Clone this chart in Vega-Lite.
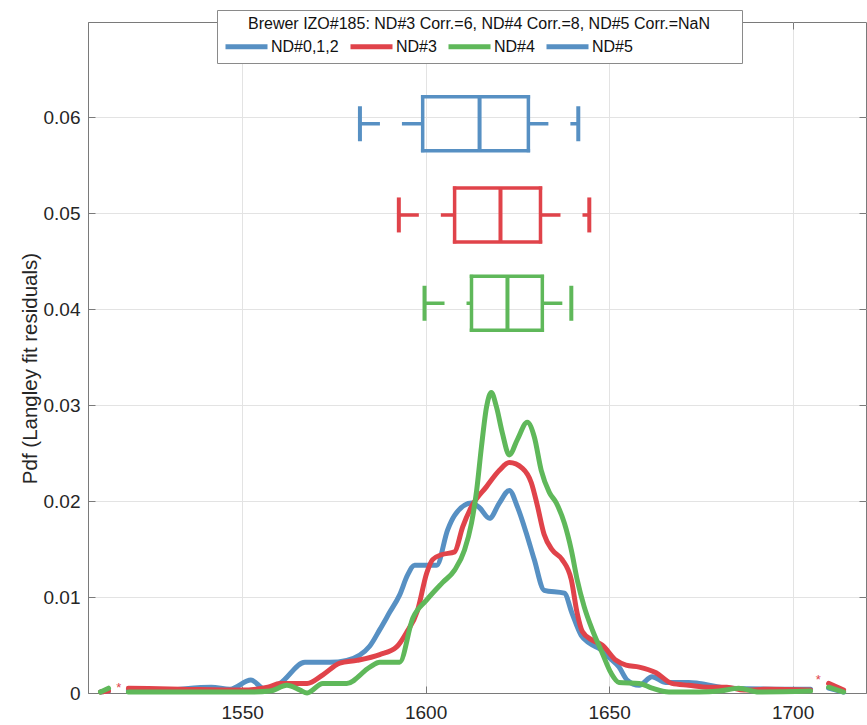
{
  "$schema": "https://vega.github.io/schema/vega-lite/v6.json",
  "width": 778,
  "height": 671,
  "autosize": {"type": "none"},
  "padding": {"left": 88, "top": 22, "right": 1, "bottom": 32},
  "background": "white",
  "config": {
    "font": "Liberation Sans",
    "view": {"stroke": "#7a7a7a", "strokeWidth": 1},
    "axis": {
      "labelFontSize": 19,
      "labelColor": "#262626",
      "gridColor": "#e3e3e3",
      "domainColor": "#7a7a7a",
      "tickColor": "#7a7a7a",
      "tickSize": -7,
      "titleFontWeight": "normal",
      "titleColor": "#262626",
      "titleFontSize": 20.5
    }
  },
  "resolve": {"axis": {"x": "independent", "y": "independent"}},
  "datasets": {
    "pdf": [
      {"s":"ND#0,1,2","x":1511.4,"y":0.0001},{"s":"ND#0,1,2","x":1513.6,"y":0.0002},{"s":"ND#0,1,2","x":1516.3,"y":null},{"s":"ND#0,1,2","x":1519.0,"y":0.0003},{"s":"ND#0,1,2","x":1527.7,"y":0.0003},{"s":"ND#0,1,2","x":1541.6,"y":0.0006},{"s":"ND#0,1,2","x":1546.7,"y":0.0004},{"s":"ND#0,1,2","x":1552.4,"y":0.00135},{"s":"ND#0,1,2","x":1556.2,"y":0.0004},{"s":"ND#0,1,2","x":1560.3,"y":0.001},{"s":"ND#0,1,2","x":1567.1,"y":0.0032},{"s":"ND#0,1,2","x":1573.9,"y":0.0032},{"s":"ND#0,1,2","x":1578.5,"y":0.0034},{"s":"ND#0,1,2","x":1584.8,"y":0.0049},{"s":"ND#0,1,2","x":1587.5,"y":0.0066},{"s":"ND#0,1,2","x":1590.2,"y":0.0084},{"s":"ND#0,1,2","x":1592.9,"y":0.0102},{"s":"ND#0,1,2","x":1595.1,"y":0.0123},{"s":"ND#0,1,2","x":1597.0,"y":0.0133},{"s":"ND#0,1,2","x":1603.0,"y":0.0133},{"s":"ND#0,1,2","x":1606.0,"y":0.017},{"s":"ND#0,1,2","x":1607.9,"y":0.0185},{"s":"ND#0,1,2","x":1612.5,"y":0.0198},{"s":"ND#0,1,2","x":1614.7,"y":0.0193},{"s":"ND#0,1,2","x":1617.4,"y":0.0182},{"s":"ND#0,1,2","x":1620.1,"y":0.0198},{"s":"ND#0,1,2","x":1622.8,"y":0.0211},{"s":"ND#0,1,2","x":1625.0,"y":0.0194},{"s":"ND#0,1,2","x":1627.4,"y":0.0167},{"s":"ND#0,1,2","x":1629.6,"y":0.0139},{"s":"ND#0,1,2","x":1632.3,"y":0.0107},{"s":"ND#0,1,2","x":1637.8,"y":0.0104},{"s":"ND#0,1,2","x":1639.9,"y":0.0083},{"s":"ND#0,1,2","x":1642.4,"y":0.006},{"s":"ND#0,1,2","x":1644.6,"y":0.0052},{"s":"ND#0,1,2","x":1647.8,"y":0.0045},{"s":"ND#0,1,2","x":1650.0,"y":0.0037},{"s":"ND#0,1,2","x":1652.7,"y":0.0027},{"s":"ND#0,1,2","x":1654.9,"y":0.00135},{"s":"ND#0,1,2","x":1658.2,"y":0.0008},{"s":"ND#0,1,2","x":1661.7,"y":0.0017},{"s":"ND#0,1,2","x":1665.5,"y":0.0011},{"s":"ND#0,1,2","x":1671.7,"y":0.0011},{"s":"ND#0,1,2","x":1674.5,"y":0.001},{"s":"ND#0,1,2","x":1682.6,"y":0.0005},{"s":"ND#0,1,2","x":1698.9,"y":0.0004},{"s":"ND#0,1,2","x":1704.9,"y":0.0004},{"s":"ND#0,1,2","x":1707.0,"y":null},{"s":"ND#0,1,2","x":1709.8,"y":0.0005},{"s":"ND#0,1,2","x":1713.9,"y":0.0001},
      {"s":"ND#3","x":1511.4,"y":0.0001},{"s":"ND#3","x":1513.6,"y":0.0002},{"s":"ND#3","x":1516.3,"y":null},{"s":"ND#3","x":1519.0,"y":0.0005},{"s":"ND#3","x":1533.2,"y":0.0004},{"s":"ND#3","x":1549.7,"y":0.0003},{"s":"ND#3","x":1557.0,"y":0.0006},{"s":"ND#3","x":1560.3,"y":0.001},{"s":"ND#3","x":1567.7,"y":0.001},{"s":"ND#3","x":1572.0,"y":0.0019},{"s":"ND#3","x":1576.6,"y":0.0031},{"s":"ND#3","x":1581.3,"y":0.0034},{"s":"ND#3","x":1587.5,"y":0.004},{"s":"ND#3","x":1592.1,"y":0.0048},{"s":"ND#3","x":1594.8,"y":0.0063},{"s":"ND#3","x":1597.8,"y":0.0086},{"s":"ND#3","x":1600.3,"y":0.0125},{"s":"ND#3","x":1601.9,"y":0.0139},{"s":"ND#3","x":1604.3,"y":0.0144},{"s":"ND#3","x":1607.9,"y":0.0147},{"s":"ND#3","x":1610.1,"y":0.0173},{"s":"ND#3","x":1612.5,"y":0.0194},{"s":"ND#3","x":1616.6,"y":0.0215},{"s":"ND#3","x":1620.1,"y":0.0232},{"s":"ND#3","x":1622.8,"y":0.024},{"s":"ND#3","x":1626.4,"y":0.0234},{"s":"ND#3","x":1628.8,"y":0.0219},{"s":"ND#3","x":1630.4,"y":0.0196},{"s":"ND#3","x":1632.3,"y":0.0165},{"s":"ND#3","x":1634.5,"y":0.0149},{"s":"ND#3","x":1637.2,"y":0.0139},{"s":"ND#3","x":1639.7,"y":0.0118},{"s":"ND#3","x":1641.3,"y":0.0083},{"s":"ND#3","x":1642.7,"y":0.0064},{"s":"ND#3","x":1645.4,"y":0.0055},{"s":"ND#3","x":1648.1,"y":0.005},{"s":"ND#3","x":1651.9,"y":0.0034},{"s":"ND#3","x":1654.6,"y":0.0029},{"s":"ND#3","x":1658.2,"y":0.0027},{"s":"ND#3","x":1662.8,"y":0.0021},{"s":"ND#3","x":1667.1,"y":0.001},{"s":"ND#3","x":1671.7,"y":0.0008},{"s":"ND#3","x":1677.2,"y":0.0006},{"s":"ND#3","x":1682.1,"y":0.0006},{"s":"ND#3","x":1686.7,"y":0.0003},{"s":"ND#3","x":1693.5,"y":0.0004},{"s":"ND#3","x":1704.9,"y":0.0003},{"s":"ND#3","x":1707.0,"y":null},{"s":"ND#3","x":1709.8,"y":0.001},{"s":"ND#3","x":1713.9,"y":0.0003},
      {"s":"ND#4","x":1511.4,"y":0.0001},{"s":"ND#4","x":1513.6,"y":0.0005},{"s":"ND#4","x":1516.3,"y":null},{"s":"ND#4","x":1519.0,"y":0.0001},{"s":"ND#4","x":1552.2,"y":0.0001},{"s":"ND#4","x":1557.6,"y":0.0002},{"s":"ND#4","x":1562.2,"y":0.0008},{"s":"ND#4","x":1565.8,"y":0.0003},{"s":"ND#4","x":1567.7,"y":0.0},{"s":"ND#4","x":1572.0,"y":0.001},{"s":"ND#4","x":1578.5,"y":0.001},{"s":"ND#4","x":1584.8,"y":0.0027},{"s":"ND#4","x":1587.5,"y":0.0032},{"s":"ND#4","x":1592.9,"y":0.0032},{"s":"ND#4","x":1596.5,"y":0.0078},{"s":"ND#4","x":1600.3,"y":0.0097},{"s":"ND#4","x":1604.6,"y":0.0115},{"s":"ND#4","x":1607.9,"y":0.0128},{"s":"ND#4","x":1610.6,"y":0.0149},{"s":"ND#4","x":1612.5,"y":0.0177},{"s":"ND#4","x":1613.9,"y":0.0211},{"s":"ND#4","x":1615.2,"y":0.0256},{"s":"ND#4","x":1616.6,"y":0.0298},{"s":"ND#4","x":1617.9,"y":0.0313},{"s":"ND#4","x":1619.3,"y":0.0298},{"s":"ND#4","x":1620.9,"y":0.0271},{"s":"ND#4","x":1622.8,"y":0.0248},{"s":"ND#4","x":1625.0,"y":0.0264},{"s":"ND#4","x":1627.7,"y":0.0282},{"s":"ND#4","x":1629.6,"y":0.0267},{"s":"ND#4","x":1631.5,"y":0.0232},{"s":"ND#4","x":1633.7,"y":0.0209},{"s":"ND#4","x":1635.6,"y":0.0198},{"s":"ND#4","x":1637.8,"y":0.0177},{"s":"ND#4","x":1639.7,"y":0.0149},{"s":"ND#4","x":1641.3,"y":0.0118},{"s":"ND#4","x":1643.2,"y":0.009},{"s":"ND#4","x":1645.4,"y":0.0066},{"s":"ND#4","x":1648.1,"y":0.0042},{"s":"ND#4","x":1650.5,"y":0.0021},{"s":"ND#4","x":1652.7,"y":0.0011},{"s":"ND#4","x":1658.2,"y":0.001},{"s":"ND#4","x":1661.7,"y":0.0005},{"s":"ND#4","x":1666.3,"y":0.0001},{"s":"ND#4","x":1674.5,"y":0.0001},{"s":"ND#4","x":1680.0,"y":0.0002},{"s":"ND#4","x":1685.3,"y":0.0005},{"s":"ND#4","x":1690.8,"y":0.0001},{"s":"ND#4","x":1704.9,"y":0.0002},{"s":"ND#4","x":1707.0,"y":null},{"s":"ND#4","x":1709.8,"y":0.0006},{"s":"ND#4","x":1713.9,"y":0.0001}
    ],
    "box": [
      {"s":"ND#0,1,2","pos":0.0593,"lo":1582.1,"q1":1599.2,"med":1614.7,"q3":1628.0,"hi":1641.6},
      {"s":"ND#3","pos":0.0498,"lo":1592.7,"q1":1607.9,"med":1620.4,"q3":1631.3,"hi":1644.6},
      {"s":"ND#4","pos":0.0406,"lo":1599.7,"q1":1612.5,"med":1622.3,"q3":1631.8,"hi":1639.7}
    ],
    "stars": [
      {"x":1516.4,"y":0.0008,"t":"*"},
      {"x":1707.0,"y":0.0017,"t":"*"}
    ]
  },
  "layer": [
    {
      "data": {"name": "pdf"},
      "mark": {"type": "line", "strokeWidth": 5, "interpolate": "monotone", "strokeCap": "round", "strokeJoin": "round"},
      "encoding": {
        "x": {"field": "x", "type": "quantitative", "scale": {"domain": [1508, 1720], "nice": false, "zero": false},
              "axis": {"values": [1550, 1600, 1650, 1700], "format": "d", "title": null, "grid": true, "labelFlush": false, "labelPadding": 17}},
        "y": {"field": "y", "type": "quantitative", "scale": {"domain": [0, 0.0699], "nice": false},
              "axis": {"values": [0, 0.01, 0.02, 0.03, 0.04, 0.05, 0.06], "format": ".2~f", "title": "Pdf (Langley fit residuals)", "titlePadding": 3, "titleY": 346, "grid": true, "labelPadding": 15}},
        "color": {"field": "s", "type": "nominal",
          "scale": {"domain": ["ND#0,1,2", "ND#3", "ND#4", "ND#5"], "range": ["#5790c3", "#e0434a", "#5fb85a", "#5790c3"]},
          "legend": {
            "orient": "none", "legendX": 129, "legendY": -12, "direction": "horizontal",
            "title": "Brewer IZO#185: ND#3 Corr.=6, ND#4 Corr.=8, ND#5 Corr.=NaN",
            "titleLimit": 2000, "labelLimit": 1000,
            "labelExpr": "datum.label == 'ND#5' ? 'ND#5\u00a0\u00a0\u00a0\u00a0\u00a0\u00a0\u00a0\u00a0\u00a0\u00a0\u00a0\u00a0\u00a0\u00a0\u00a0\u00a0\u00a0\u00a0\u00a0\u00a0\u00a0\u00a0\u00a0\u200b' : datum.label",
            "titleFontSize": 16, "titleFontWeight": "normal", "titleColor": "#111", "titleAnchor": "middle", "titlePadding": 4,
            "labelFontSize": 16, "labelColor": "#111", "labelOffset": 27,
            "symbolType": "M-1,0H4.25", "symbolSize": 256, "symbolStrokeWidth": 5,
            "columnPadding": 1, "padding": 6, "strokeColor": "#8a8a8a", "fillColor": "white"
          }
        },
        "order": {"field": "x", "type": "quantitative"}
      }
    },
    {
      "data": {"name": "box"},
      "mark": {"type": "rule", "strokeWidth": 3.5, "strokeDash": [20, 22]},
      "encoding": {
        "x": {"field": "lo", "type": "quantitative", "axis": null}, "x2": {"field": "q1"},
        "y": {"field": "pos", "type": "quantitative", "axis": null},
        "color": {"field": "s", "type": "nominal", "legend": null}
      }
    },
    {
      "data": {"name": "box"},
      "mark": {"type": "rule", "strokeWidth": 3.5, "strokeDash": [20, 22]},
      "encoding": {
        "x": {"field": "q3", "type": "quantitative", "axis": null}, "x2": {"field": "hi"},
        "y": {"field": "pos", "type": "quantitative", "axis": null},
        "color": {"field": "s", "type": "nominal", "legend": null}
      }
    },
    {
      "data": {"name": "box"},
      "mark": {"type": "rule", "strokeWidth": 3.5, "yOffset": -27, "strokeCap": "square"},
      "encoding": {
        "x": {"field": "q1", "type": "quantitative", "axis": null}, "x2": {"field": "q3"},
        "y": {"field": "pos", "type": "quantitative", "axis": null},
        "color": {"field": "s", "type": "nominal", "legend": null}
      }
    },
    {
      "data": {"name": "box"},
      "mark": {"type": "rule", "strokeWidth": 3.5, "yOffset": 27, "strokeCap": "square"},
      "encoding": {
        "x": {"field": "q1", "type": "quantitative", "axis": null}, "x2": {"field": "q3"},
        "y": {"field": "pos", "type": "quantitative", "axis": null},
        "color": {"field": "s", "type": "nominal", "legend": null}
      }
    },
    {
      "data": {"name": "box"},
      "mark": {"type": "tick", "orient": "vertical", "size": 57, "thickness": 3.5, "opacity": 1},
      "encoding": {
        "x": {"field": "q1", "type": "quantitative", "axis": null},
        "y": {"field": "pos", "type": "quantitative", "axis": null},
        "color": {"field": "s", "type": "nominal", "legend": null}
      }
    },
    {
      "data": {"name": "box"},
      "mark": {"type": "tick", "orient": "vertical", "size": 57, "thickness": 3.5, "opacity": 1},
      "encoding": {
        "x": {"field": "q3", "type": "quantitative", "axis": null},
        "y": {"field": "pos", "type": "quantitative", "axis": null},
        "color": {"field": "s", "type": "nominal", "legend": null}
      }
    },
    {
      "data": {"name": "box"},
      "mark": {"type": "tick", "orient": "vertical", "size": 55, "thickness": 4, "opacity": 1},
      "encoding": {
        "x": {"field": "med", "type": "quantitative", "axis": null},
        "y": {"field": "pos", "type": "quantitative", "axis": null},
        "color": {"field": "s", "type": "nominal", "legend": null}
      }
    },
    {
      "data": {"name": "box"},
      "mark": {"type": "tick", "orient": "vertical", "size": 35, "thickness": 4, "opacity": 1},
      "encoding": {
        "x": {"field": "lo", "type": "quantitative", "axis": null},
        "y": {"field": "pos", "type": "quantitative", "axis": null},
        "color": {"field": "s", "type": "nominal", "legend": null}
      }
    },
    {
      "data": {"name": "box"},
      "mark": {"type": "tick", "orient": "vertical", "size": 35, "thickness": 4, "opacity": 1},
      "encoding": {
        "x": {"field": "hi", "type": "quantitative", "axis": null},
        "y": {"field": "pos", "type": "quantitative", "axis": null},
        "color": {"field": "s", "type": "nominal", "legend": null}
      }
    },
    {
      "data": {"name": "stars"},
      "mark": {"type": "text", "color": "#e0434a", "fontSize": 13, "baseline": "middle", "dy": 3},
      "encoding": {
        "x": {"field": "x", "type": "quantitative",
              "axis": {"orient": "top", "values": [1550, 1600, 1650, 1700], "labels": false, "grid": false, "domain": false, "title": null}},
        "y": {"field": "y", "type": "quantitative",
              "axis": {"orient": "right", "values": [0, 0.01, 0.02, 0.03, 0.04, 0.05, 0.06], "labels": false, "grid": false, "domain": false, "title": null}},
        "text": {"field": "t"}
      }
    }
  ]
}
